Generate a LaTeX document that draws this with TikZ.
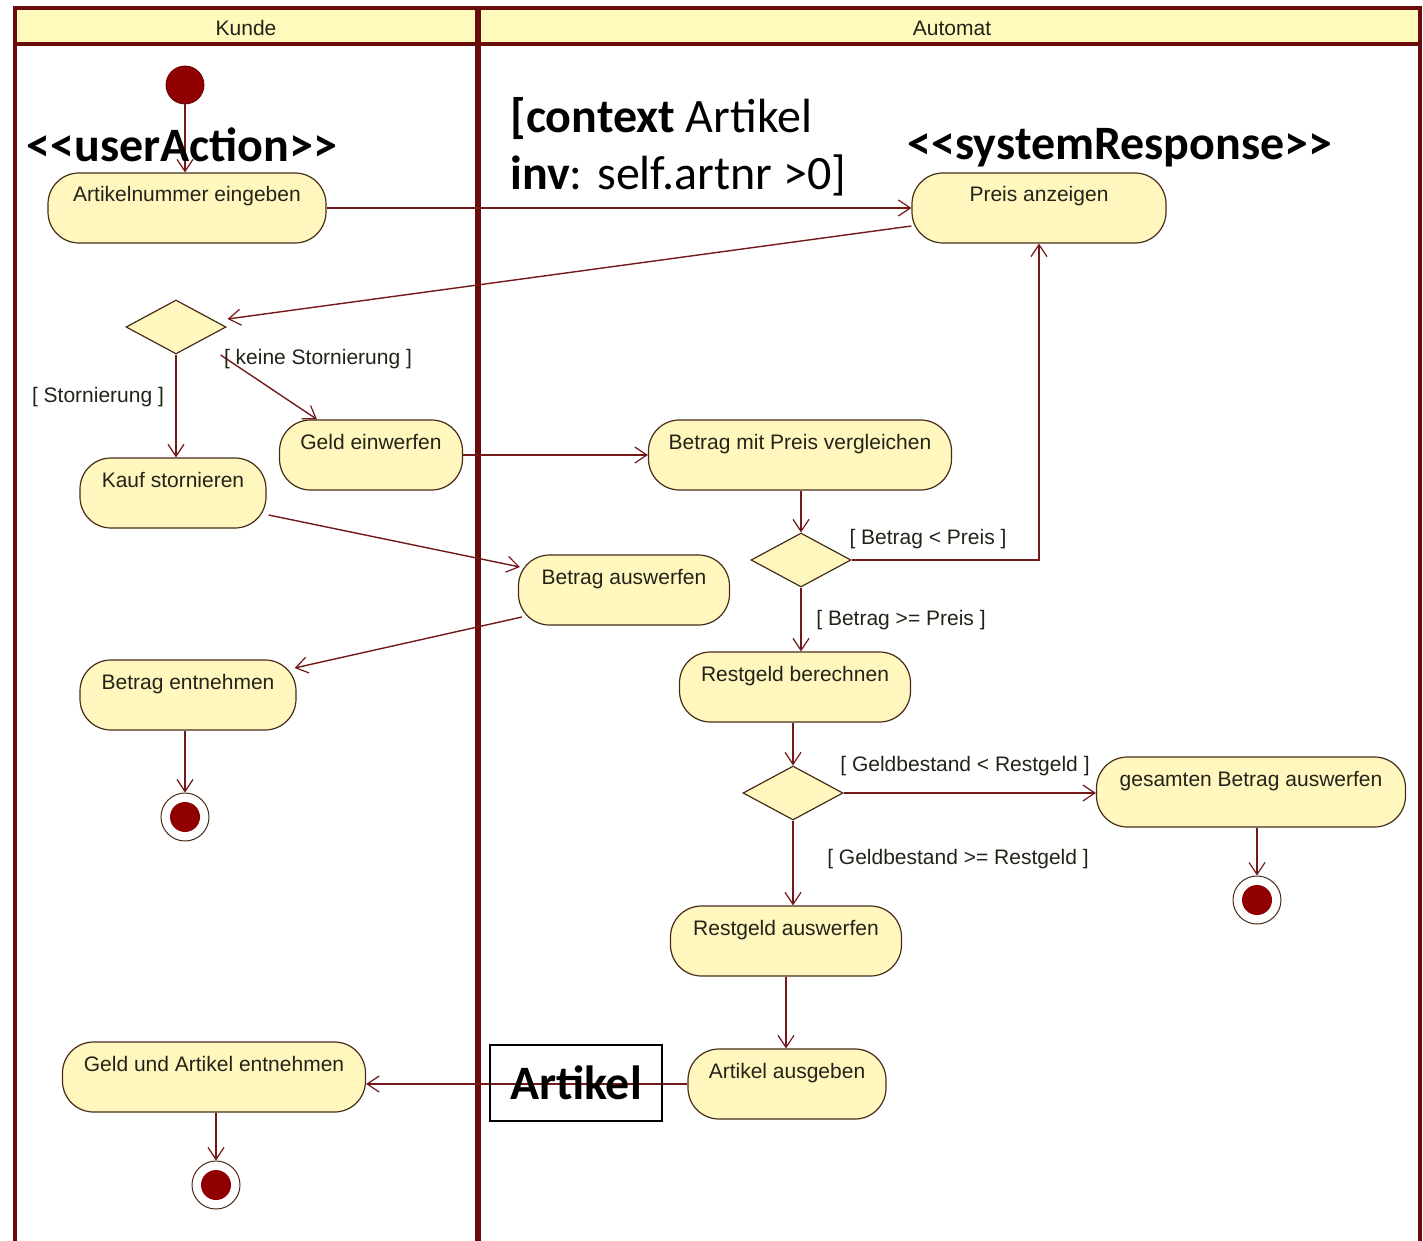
\documentclass[tikz,border=0pt]{standalone}
\usepackage{fontspec}
\setmainfont{Liberation Sans}
\newfontfamily\calfont[Ligatures=TeXOff]{Carlito}
\usetikzlibrary{arrows.meta,shapes.geometric,calc}

\definecolor{frameclr}{RGB}{105,12,12}
\definecolor{flowclr}{RGB}{115,25,25}
\definecolor{edgeclr}{RGB}{70,45,25}
\definecolor{fillclr}{RGB}{255,247,190}
\definecolor{headclr}{RGB}{255,249,188}
\definecolor{dotclr}{RGB}{145,0,0}
\definecolor{txtclr}{RGB}{35,35,25}

\begin{document}
\begin{tikzpicture}[x=0.5pt,y=-0.5pt,
  act/.style={draw=edgeclr, line width=0.6pt, fill=fillclr, rounded corners=15.5pt,
    minimum height=35pt, inner ysep=4pt, inner xsep=2pt, text height=10.5pt, text depth=16.5pt,
    font=\fontsize{10.5}{12}\selectfont, text=txtclr},
  decision/.style={diamond, draw=edgeclr, line width=0.6pt, fill=fillclr,
    minimum width=50pt, minimum height=27pt, inner sep=0pt},
  startdot/.style={circle, fill=dotclr, draw=dotclr!70!black, minimum size=19pt, inner sep=0pt},
  enddot/.style={circle, draw=edgeclr, line width=0.5pt, fill=white, minimum size=24pt, inner sep=0pt,
    path picture={\fill[dotclr] (path picture bounding box.center) circle (7.5pt);}},
  flow/.style={draw=flowclr, line width=0.7pt, -{Straight Barb[length=6pt,width=8pt,line width=0.6pt]}},
  guard/.style={font=\fontsize{10.5}{12}\selectfont, text=txtclr, inner sep=0pt},
  lanename/.style={font=\fontsize{10.5}{12}\selectfont, text=txtclr, inner sep=0pt},
  stereo/.style={font=\calfont\bfseries\fontsize{24}{28}\selectfont, inner sep=0pt},
  ocl/.style={font=\calfont\fontsize{24}{28}\selectfont, inner sep=0pt, anchor=base west},
]
\useasboundingbox (0,0) rectangle (1423,1241);

% swimlane frame
\fill[headclr] (15,8) rectangle (1420,44);
\draw[frameclr, line width=1.8pt] (15,1250) -- (15,8) -- (1420,8) -- (1420,1250);
\draw[frameclr, line width=1.8pt] (15,44) -- (1420,44);
\draw[frameclr, line width=2.6pt] (478,8) -- (478,1250);
\node[lanename] (laneK) at (246,28) {Kunde};
\node[lanename] (laneA) at (952,28) {Automat};

% activities
\node[startdot] (init) at (185,85) {};
\node[act, minimum width=139pt] (art) at (187,208) {Artikelnummer eingeben};
\node[act, minimum width=127pt] (preis) at (1039,208) {Preis anzeigen};
\node[decision] (d1) at (176,327) {};
\node[act, minimum width=91.5pt] (geld) at (371,455) {Geld einwerfen};
\node[act, minimum width=93pt] (kauf) at (173,493) {Kauf stornieren};
\node[act, minimum width=151.5pt] (vergl) at (800,455) {Betrag mit Preis vergleichen};
\node[decision] (d2) at (801,560) {};
\node[act, minimum width=105.5pt] (bausw) at (624,590) {Betrag auswerfen};
\node[act, minimum width=108pt] (bentn) at (188,695) {Betrag entnehmen};
\node[enddot] (f1) at (185,817) {};
\node[act, minimum width=115.5pt] (restb) at (795,687) {Restgeld berechnen};
\node[decision] (d3) at (793,793) {};
\node[act, minimum width=154.5pt] (gesamt) at (1251,792) {gesamten Betrag auswerfen};
\node[enddot] (f2) at (1257,900) {};
\node[act, minimum width=115.5pt] (resta) at (786,941) {Restgeld auswerfen};
\node[act, minimum width=99pt] (artaus) at (787,1084) {Artikel ausgeben};
\node[act, minimum width=151.5pt] (gaent) at (214,1077) {Geld und Artikel entnehmen};
\node[enddot] (f3) at (216,1185) {};

% control flows
\draw[flow] (init.south) -- (init.south |- art.north);
\draw[flow] (art.east) -- (preis.west);
\draw[flow] ($(preis.west)+(0,18)$) -- ($(d1.east)+(1,-8)$);
\draw[flow] (d1.south) -- (d1.south |- kauf.north);
\draw[flow] ($(d1.east)+(-6,28)$) -- ($(geld.north)+(-54,0)$);
\draw[flow] (geld.east) -- (vergl.west);
\draw[flow] (d2.north |- vergl.south) -- (d2.north);
\draw[flow] (d2.east) -| (preis.south);
\draw[flow] (d2.south) -- (d2.south |- restb.north);
\draw[flow] ($(kauf.east)+(2,22)$) -- ($(bausw.west)+(2,-23)$);
\draw[flow] ($(bausw.west)+(4,27)$) -- ($(bentn.east)+(-2,-27)$);
\draw[flow] (f1.north |- bentn.south) -- (f1.north);
\draw[flow] (d3.north |- restb.south) -- (d3.north);
\draw[flow] (d3.east) -- (d3.east -| gesamt.west);
\draw[flow] (d3.south) -- (d3.south |- resta.north);
\draw[flow] (f2.north |- gesamt.south) -- (f2.north);
\draw[flow] (resta.south) -- (resta.south |- artaus.north);
\draw[flow] (artaus.west) -- (artaus.west -| gaent.east);
\draw[flow] (f3.north |- gaent.south) -- (f3.north);

% guards
\node[guard] (gS) at (98,397) {[ Stornierung ]};
\node[guard] (gKS) at (318,359) {[ keine Stornierung ]};
\node[guard] (gBk) at (928,539) {[ Betrag < Preis ]};
\node[guard] (gBg) at (901,620) {[ Betrag >= Preis ]};
\node[guard] (gGk) at (965,766) {[ Geldbestand < Restgeld ]};
\node[guard] (gGg) at (958,859) {[ Geldbestand >= Restgeld ]};

% stereotypes, constraint and object
\node[stereo, anchor=base] (ua) at (182,162) {<<userAction>>};
\node[stereo, anchor=base] (sr) at (1120,160) {<<systemResponse>>};
\node[ocl] (ctx1) at (510,133) {\textbf{[context} Artikel};
\node[ocl] (ctx2) at (510,190) {\textbf{inv}: self.artnr >0]};
\node[draw=black, line width=0.6pt, minimum width=86pt, minimum height=38pt, inner sep=0pt,
  font=\calfont\bfseries\fontsize{24}{28}\selectfont] (obj) at (576,1083) {Artikel};
\end{tikzpicture}
\end{document}
